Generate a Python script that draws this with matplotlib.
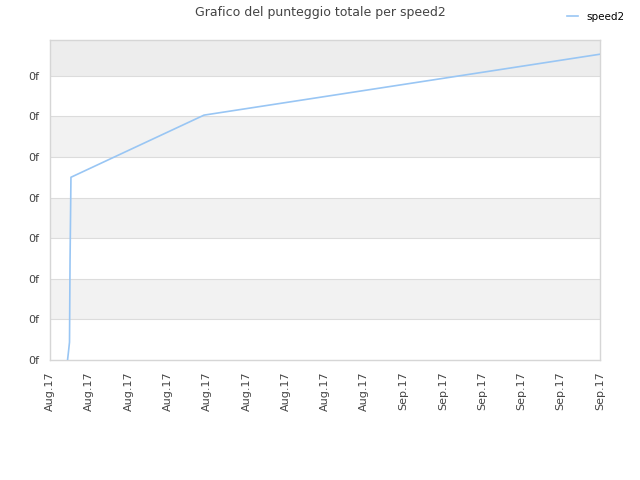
import matplotlib
matplotlib.use("Agg")
import matplotlib.pyplot as plt
import matplotlib.dates as mdates
from matplotlib.ticker import FixedLocator, FuncFormatter
from datetime import datetime, timedelta

# --- data ---
start = datetime(2017, 8, 7)
day_offsets = [1.34, 1.41, 1.49, 1.53, 1.60, 11.76, 42.0]
scores = [0.0, 0.2, 0.44, 2.42, 4.5, 6.03, 7.53]
series_name = "speed2"
title = "Grafico del punteggio totale per speed2"

dates = [start + timedelta(days=d) for d in day_offsets]
tick_dates = [start + timedelta(days=3 * i) for i in range(15)]

fig = plt.figure(figsize=(6.4, 4.8), dpi=100)
ax = fig.add_axes([50 / 640, 120 / 480, 550 / 640, 320 / 480])

y_top = 7.88
# alternating bands
for i in range(8):
    lo, hi = i, min(i + 1, y_top)
    if i == 7:
        ax.axhspan(lo, hi, color="#ededed", lw=0, zorder=0)
    elif i % 2 == 1:
        ax.axhspan(lo, hi, color="#f2f2f2", lw=0, zorder=0)
for i in range(1, 8):
    ax.axhline(i, color="#dcdcdc", lw=0.8, zorder=1)

ax.plot(dates, scores, color="#99c6f4", lw=1.2, label=series_name, zorder=3)

ax.set_xlim(start, start + timedelta(days=42))
ax.set_ylim(0, y_top)
ax.xaxis.set_major_locator(FixedLocator(mdates.date2num(tick_dates)))
ax.xaxis.set_major_formatter(mdates.DateFormatter("%b.%y"))
ax.yaxis.set_major_locator(FixedLocator(range(8)))
ax.yaxis.set_major_formatter(FuncFormatter(lambda v, p: "0f"))
ax.tick_params(axis="both", length=0, labelsize=8, colors="#444444", pad=8)
plt.setp(ax.get_xticklabels(), rotation=90)
for s in ax.spines.values():
    s.set_color("#d6d6d6")
    s.set_linewidth(1)

fig.text(0.5, 0.988, title, ha="center", va="top", fontsize=9, color="#444444")
fig.legend(loc="upper right", bbox_to_anchor=(0.99, 0.995), frameon=False,
           fontsize=7.5, handlelength=1.0, handletextpad=0.8)

fig.savefig("out.png", dpi=100)
